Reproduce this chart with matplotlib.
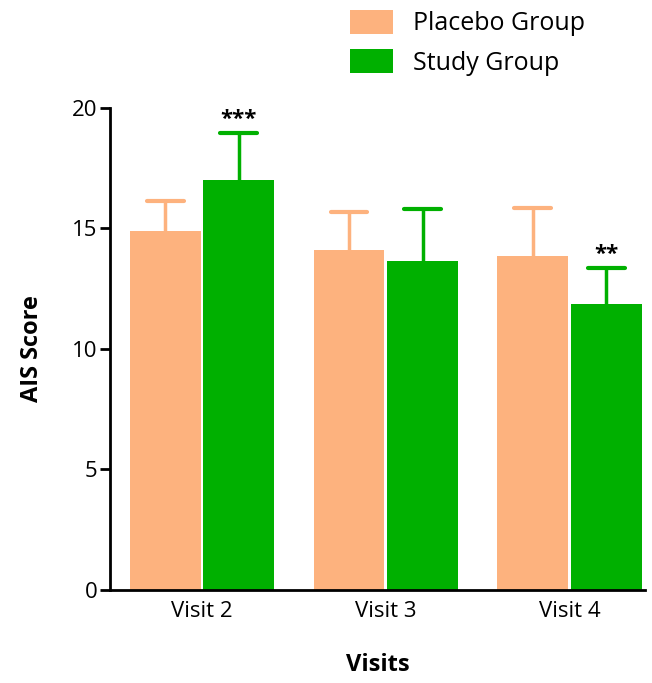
import numpy as np
import matplotlib.pyplot as plt

visits = ["Visit 2", "Visit 3", "Visit 4"]
placebo = [14.9, 14.1, 13.87]
placebo_err = [1.25, 1.6, 2.0]
study = [17.0, 13.65, 11.85]
study_err = [1.95, 2.15, 1.5]
stars = ["***", "", "**"]

c_placebo = "#FDB27E"
c_study = "#00B000"

plt.rcParams["font.family"] = ["Open Sans", "DejaVu Sans"]

fig = plt.figure(figsize=(6.52, 6.83), dpi=100)
ax = fig.add_axes([0.1687, 0.1362, 0.8206, 0.7057])

x = np.arange(len(visits))
w = 0.386
off = 0.2
cap = 0.1

# upper error bars only, drawn under the bars
for pos, vals, errs, col in [(x - off, placebo, placebo_err, c_placebo),
                             (x + off, study, study_err, c_study)]:
    tops = np.array(vals) + np.array(errs)
    ax.vlines(pos, vals, tops, color=col, linewidth=2.5, zorder=1)
    ax.hlines(tops, pos - cap, pos + cap, color=col, linewidth=3,
              capstyle="round", zorder=1)

ax.bar(x - off, placebo, w, color=c_placebo, label="Placebo Group", zorder=2)
ax.bar(x + off, study, w, color=c_study, label="Study Group", zorder=2)

for xi, v, e, s in zip(x + off, study, study_err, stars):
    if s:
        ax.text(xi, v + e + 0.15, s, ha="center", va="bottom",
                fontsize=16, fontweight="bold")

ax.set_xlim(-0.5, 2.41)
ax.set_ylim(0, 20)
ax.set_yticks([0, 5, 10, 15, 20])
ax.set_xticks(x)
ax.set_xticklabels(visits)
ax.tick_params(axis="y", length=7, width=2, labelsize=16, direction="out", pad=2)
ax.tick_params(axis="x", length=0, labelsize=16, pad=8)
for side in ["top", "right"]:
    ax.spines[side].set_visible(False)
for side in ["left", "bottom"]:
    ax.spines[side].set_linewidth(2)

ax.set_ylabel("AIS Score", fontsize=17, fontweight="bold", labelpad=20)
ax.set_xlabel("Visits", fontsize=17, fontweight="bold", labelpad=22)

fig.legend(loc="upper left", bbox_to_anchor=(350 / 652, 1 - 10 / 683),
           frameon=False, fontsize=18, handlelength=1.72, handleheight=1.1,
           handletextpad=0.8, labelspacing=0.5, borderpad=0,
           borderaxespad=0)

plt.savefig("out.png", dpi=100)
